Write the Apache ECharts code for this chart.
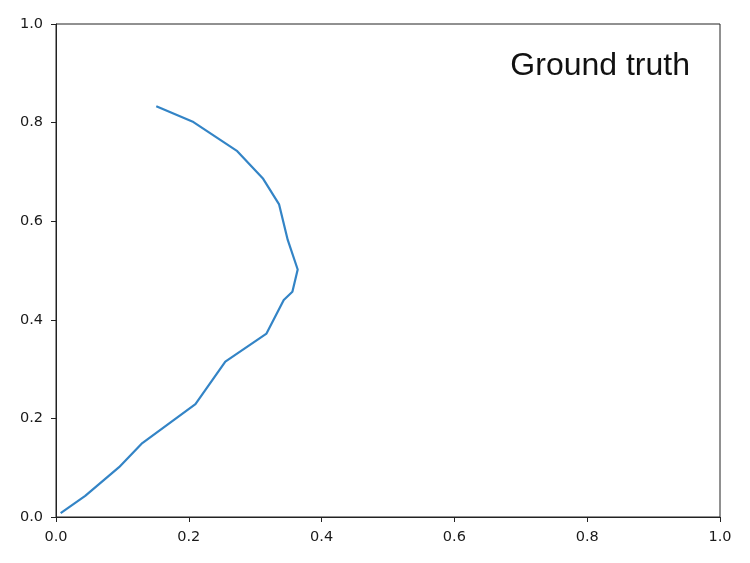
<!DOCTYPE html>
<html>
<head>
<meta charset="utf-8">
<script src="https://cdn.jsdelivr.net/npm/echarts@6/dist/echarts.min.js"></script>
<style>html,body{margin:0;padding:0;background:#fff;}#c{width:750px;height:563px;}</style>
</head>
<body>
<div id="c"></div>
<script>
const xVals = [0.007,0.044,0.095,0.130,0.210,0.255,0.317,0.343,0.356,0.364,0.349,0.336,0.312,0.273,0.207,0.151];
const yVals = [0.008,0.043,0.101,0.150,0.229,0.315,0.372,0.440,0.457,0.502,0.562,0.634,0.686,0.742,0.801,0.833];
const tickLabels = ['0.0','0.2','0.4','0.6','0.8','1.0'];
const titleText = 'Ground truth';

const chart = echarts.init(document.getElementById('c'), null, {renderer:'canvas'});
const axisCommon = {
  type: 'value', min: 0, max: 1, interval: 0.2,
  axisLine: {show: true, lineStyle: {color: '#222', width: 1}},
  axisTick: {show: true, inside: false, length: 5, lineStyle: {color: '#222', width: 1}},
  splitLine: {show: false},
  axisLabel: {
    color: '#1a1a1a', fontSize: 14.5, fontFamily: 'DejaVu Sans',
    formatter: v => tickLabels[Math.round(v / 0.2)]
  }
};
chart.setOption({
  animation: false,
  backgroundColor: '#fff',
  grid: {left: 56, right: 30, top: 24, bottom: 46, show: true, borderColor: '#222', borderWidth: 1},
  title: {
    text: titleText, right: 55, top: 45,
    textStyle: {fontFamily: 'Liberation Sans', fontSize: 32, fontWeight: 'normal', color: '#111'}
  },
  xAxis: Object.assign({}, axisCommon, {axisLabel: Object.assign({}, axisCommon.axisLabel, {margin: 13})}),
  yAxis: Object.assign({}, axisCommon, {axisLabel: Object.assign({}, axisCommon.axisLabel, {margin: 13})}),
  series: [{
    type: 'line',
    data: xVals.map((x, i) => [x, yVals[i]]),
    showSymbol: false,
    smooth: false,
    lineStyle: {color: '#3384c6', width: 2.2},
    clip: false
  }]
});
</script>
</body>
</html>
